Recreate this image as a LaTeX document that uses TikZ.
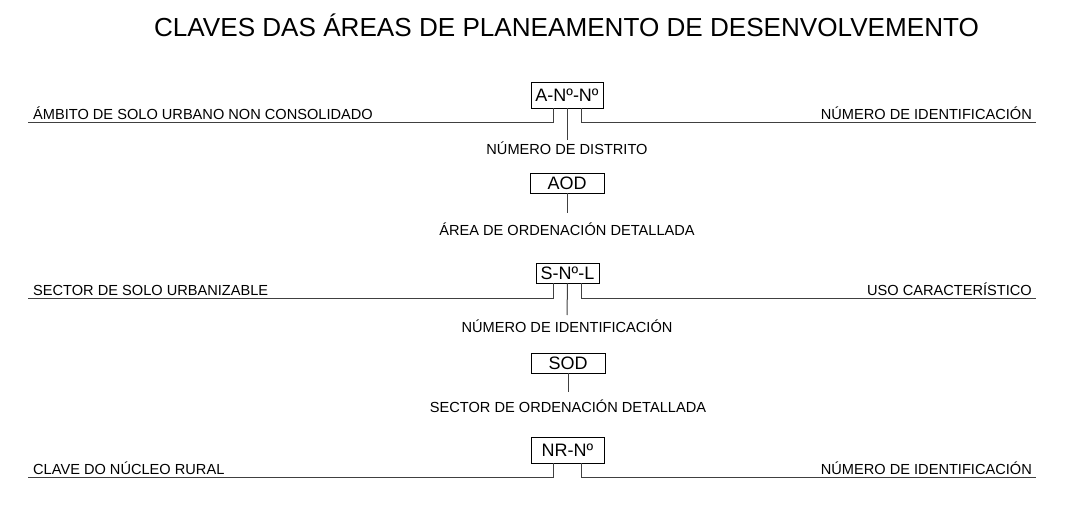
\documentclass[tikz,border=0pt]{standalone}
\usepackage{fontspec}
\setmainfont{Liberation Sans}
\begin{document}
\begin{tikzpicture}[x=1pt,y=-1pt,
  box/.style={draw=black, line width=0.9pt, inner sep=0pt, font=\fontsize{18}{18}\selectfont, anchor=center},
  lbl/.style={inner sep=0pt, font=\fontsize{14.6}{14.6}\selectfont},
  conn/.style={draw=black!75, line width=1pt},
  title/.style={inner sep=0pt, font=\fontsize{26.1}{26.1}\selectfont}]
\useasboundingbox (0,0) rectangle (1082,516);

\node[title, anchor=base] (t) at (566.5,37) {CLAVES DAS ÁREAS DE PLANEAMENTO DE DESENVOLVEMENTO};

% group 1
\node[box, minimum width=72pt, minimum height=26pt] (b1) at (567,95) {A-Nº-Nº};
\coordinate (l1) at (28,123);
\coordinate (r1) at (1036,123);
\node[lbl, anchor=base west] (tl1) at (33,120) {ÁMBITO DE SOLO URBANO NON CONSOLIDADO};
\node[lbl, anchor=base east] (tr1) at (1032,120) {NÚMERO DE IDENTIFICACIÓN};
\node[lbl, anchor=base] (c1) at (567,155) {NÚMERO DE DISTRITO};
\coordinate (m1) at (567,140);
\draw[conn] ([xshift=-14pt]b1.south) |- (l1);
\draw[conn] ([xshift=14pt]b1.south) |- (r1);
\draw[conn] (b1.south) -- (m1);

% AOD
\node[box, minimum width=74pt, minimum height=20pt] (b2) at (567,183) {AOD};
\coordinate (m2) at (567,213);
\node[lbl, anchor=base] (c2) at (567,235) {ÁREA DE ORDENACIÓN DETALLADA};
\draw[conn] (b2.south) -- (m2);

% group 3
\node[box, minimum width=63pt, minimum height=20pt] (b3) at (567.5,273) {S-Nº-L};
\coordinate (l3) at (28,298);
\coordinate (r3) at (1036,298);
\node[lbl, anchor=base west] (tl3) at (33,295) {SECTOR DE SOLO URBANIZABLE};
\node[lbl, anchor=base east] (tr3) at (1032,295) {USO CARACTERÍSTICO};
\node[lbl, anchor=base] (c3) at (567,332) {NÚMERO DE IDENTIFICACIÓN};
\coordinate (m3) at (567,315);
\draw[conn] ([xshift=-14.5pt]b3.south) |- (l3);
\draw[conn] ([xshift=13.5pt]b3.south) |- (r3);
\draw[conn] (b3.south) -- (m3);

% SOD
\node[box, minimum width=74pt, minimum height=20pt] (b4) at (568,363) {SOD};
\coordinate (m4) at (568,392);
\node[lbl, anchor=base] (c4) at (568,412) {SECTOR DE ORDENACIÓN DETALLADA};
\draw[conn] (b4.south) -- (m4);

% group 5
\node[box, minimum width=73pt, minimum height=26pt] (b5) at (567.5,450) {NR-Nº};
\coordinate (l5) at (28,477);
\coordinate (r5) at (1036,477);
\node[lbl, anchor=base west] (tl5) at (33,474) {CLAVE DO NÚCLEO RURAL};
\node[lbl, anchor=base east] (tr5) at (1032,474) {NÚMERO DE IDENTIFICACIÓN};
\draw[conn] ([xshift=-14.5pt]b5.south) |- (l5);
\draw[conn] ([xshift=13.5pt]b5.south) |- (r5);
\end{tikzpicture}
\end{document}
